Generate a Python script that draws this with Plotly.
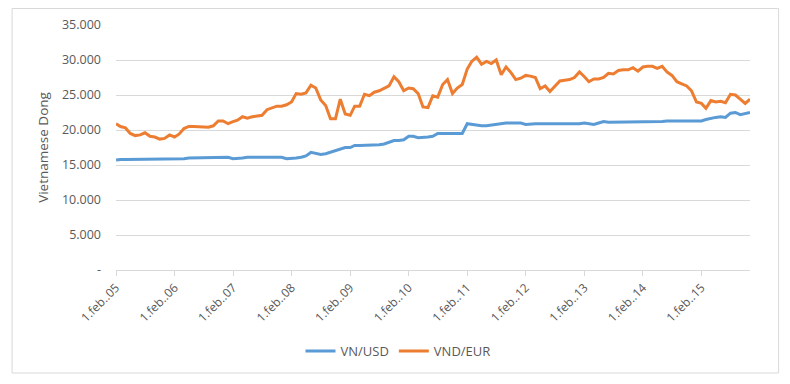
import pandas as pd
import plotly.graph_objects as go

# Monthly observations, Feb 2005 .. Dec 2015
start_month = "2005-02-01"
n_months = 131

vnd_usd = [
    15.7, 15.8, 15.8, 15.8, 15.8, 15.8, 15.8, 15.8, 15.8, 15.9, 15.9, 15.9,
    15.9, 15.9, 15.9, 16.0, 16.0, 16.0, 16.0, 16.1, 16.1, 16.1, 16.1, 16.1,
    15.9, 15.9, 16.0, 16.1, 16.1, 16.2, 16.1, 16.1, 16.1, 16.1, 16.1, 15.9,
    15.9, 16.0, 16.1, 16.3, 16.8, 16.7, 16.5, 16.6, 16.8, 17.0, 17.2, 17.5,
    17.5, 17.8, 17.8, 17.8, 17.8, 17.9, 17.9, 18.0, 18.3, 18.5, 18.5, 18.6,
    19.1, 19.1, 18.9, 18.9, 19.0, 19.1, 19.5, 19.5, 19.5, 19.5, 19.5, 19.5,
    20.9, 20.8, 20.7, 20.6, 20.6, 20.7, 20.8, 20.9, 21.0, 21.0, 21.0, 21.0,
    20.8, 20.9, 20.9, 20.9, 20.9, 20.9, 20.8, 20.9, 20.9, 20.8, 20.8, 20.9,
    21.0, 20.9, 20.8, 21.0, 21.2, 21.1, 21.1, 21.1, 21.1, 21.1, 21.1, 21.1,
    21.1, 21.1, 21.1, 21.1, 21.2, 21.3, 21.3, 21.3, 21.3, 21.3, 21.3, 21.4,
    21.3, 21.5, 21.7, 21.8, 21.9, 21.8, 22.4, 22.5, 22.2, 22.4, 22.5,
]

vnd_eur = [
    20.9, 20.5, 20.3, 19.5, 19.2, 19.3, 19.6, 19.1, 19.0, 18.7, 18.8, 19.3,
    19.0, 19.4, 20.2, 20.5, 20.5, 20.5, 20.5, 20.4, 20.6, 21.3, 21.3, 20.9,
    21.2, 21.4, 21.9, 21.7, 21.9, 22.0, 22.1, 22.9, 23.2, 23.4, 23.4, 23.6,
    24.0, 25.2, 25.1, 25.3, 26.4, 26.0, 24.3, 23.5, 21.6, 21.6, 24.4, 22.3,
    22.1, 23.4, 23.4, 25.1, 24.9, 25.4, 25.6, 26.0, 26.3, 27.6, 26.9, 25.6,
    26.0, 25.9, 25.2, 23.3, 23.2, 24.9, 24.7, 26.5, 27.2, 25.2, 26.0, 26.5,
    28.7, 29.8, 30.4, 29.4, 29.8, 29.5, 30.0, 27.9, 29.0, 28.2, 27.2, 27.4,
    27.8, 27.7, 27.5, 25.9, 26.3, 25.5, 26.2, 27.0, 27.1, 27.2, 27.5, 28.3,
    27.6, 26.9, 27.3, 27.3, 27.5, 28.1, 28.0, 28.5, 28.6, 28.6, 28.9, 28.4,
    29.0, 29.1, 29.1, 28.8, 29.1, 28.3, 27.8, 26.9, 26.6, 26.3, 25.6, 24.0,
    23.8, 23.1, 24.2, 24.0, 24.1, 23.9, 25.1, 25.0, 24.4, 23.8, 24.4,
]

series_names = ["VN/USD", "VND/EUR"]
y_title = "Vietnamese Dong"

tick_years = list(range(2005, 2016))
tick_labels = [f"1.feb..{y % 100:02d}" for y in tick_years]

y_tick_values = [0, 5000, 10000, 15000, 20000, 25000, 30000, 35000]
y_tick_labels = ["-", "5.000", "10.000", "15.000", "20.000", "25.000", "30.000", "35.000"]

dates = pd.date_range(start_month, periods=n_months, freq="MS")
tick_dates = [pd.Timestamp(f"{y}-02-01") for y in tick_years]

font_family = "Open Sans, Liberation Sans, sans-serif"
gray_text = "#595959"
grid_col = "#d9d9d9"

fig = go.Figure()
fig.add_trace(go.Scatter(
    x=dates, y=[v * 1000 for v in vnd_usd], mode="lines", name=series_names[0],
    line=dict(color="#5B9BD5", width=3),
))
fig.add_trace(go.Scatter(
    x=dates, y=[v * 1000 for v in vnd_eur], mode="lines", name=series_names[1],
    line=dict(color="#ED7D31", width=3),
))

# the page body adds an 8px offset
OFF = 8
W, H = 782, 376
L, T = 116 - OFF, 25 - OFF
pw, ph = 634.4, 245
R, B = W - L - pw, H - T - ph

def px_x(X):
    return (X - OFF - L) / pw

def px_y(Y):
    return (T + ph - (Y - OFF)) / ph

fig.update_layout(
    width=W, height=H, autosize=False,
    margin=dict(l=L, r=R, t=T, b=B, autoexpand=False),
    paper_bgcolor="white", plot_bgcolor="white",
    font=dict(family=font_family, color=gray_text, size=12),
    showlegend=True,
    legend=dict(
        orientation="h", xref="container", yref="container",
        x=(398 - OFF) / W, xanchor="center", y=1 - (351 - OFF) / H, yanchor="middle",
        font=dict(size=13, color=gray_text), itemwidth=30,
    ),
    shapes=[dict(
        type="rect", xref="paper", yref="paper",
        x0=px_x(12), x1=px_x(779), y0=px_y(373), y1=px_y(8.5),
        line=dict(color=grid_col, width=1), fillcolor="rgba(0,0,0,0)", layer="below",
    )],
)

fig.update_xaxes(
    type="date", automargin=False,
    range=[dates[0], dates[-1]],
    tickvals=tick_dates, ticktext=tick_labels,
    tickangle=-45,
    showgrid=False, zeroline=False,
    showline=True, linecolor=grid_col, linewidth=1,
    ticks="outside", ticklen=5, tickcolor=grid_col,
    tickfont=dict(size=12, color=gray_text),
)

fig.update_yaxes(
    automargin=False,
    range=[0, 35000],
    tickvals=y_tick_values, ticktext=y_tick_labels,
    showgrid=True, gridcolor=grid_col, gridwidth=1,
    zeroline=False, showline=False,
    ticks="", ticklabelstandoff=14,
    tickfont=dict(size=12.5, color=gray_text),
    title=dict(text=y_title, font=dict(size=13.5, color=gray_text), standoff=10),
)

fig.write_html("out.html")
